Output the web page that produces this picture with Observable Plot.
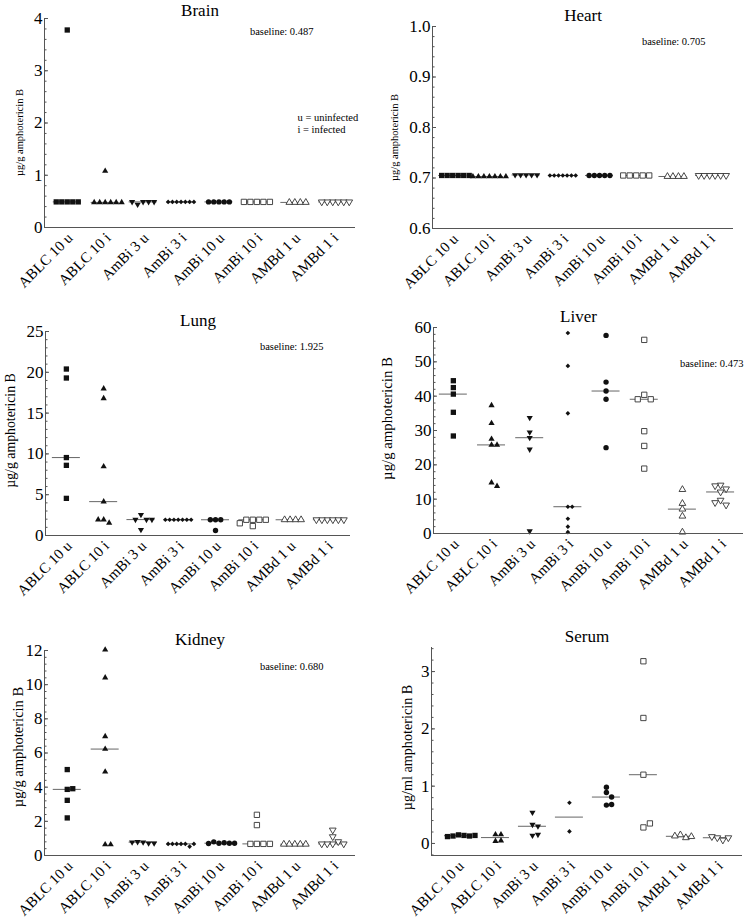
<!DOCTYPE html>
<html><head><meta charset="utf-8">
<script src="https://cdn.jsdelivr.net/npm/d3@7"></script>
<script src="https://cdn.jsdelivr.net/npm/@observablehq/plot@0.6"></script>
<style>
body{margin:0;background:#fff;}
#fig{position:relative;width:750px;height:918px;overflow:hidden;background:#fff;}
#fig svg{position:absolute;}
</style></head><body><div id="fig"></div>
<script>
// ---------- data ----------
const groups = ["ABLC 10 u","ABLC 10 i","AmBi 3 u","AmBi 3 i","AmBi 10 u","AmBi 10 i","AMBd 1 u","AMBd 1 i"];

const brain = [
  [3.78,0.49,0.49,0.49,0.49,0.49],
  [1.08,0.48,0.48,0.48,0.48,0.48,0.48],
  [0.49,0.49,0.44,0.49,0.49],
  [0.49,0.49,0.49,0.49,0.49,0.49,0.49],
  [0.49,0.49,0.49,0.49,0.49],
  [0.49,0.49,0.49,0.49,0.49],
  [0.48,0.48,0.48,0.48],
  [0.49,0.49,0.49,0.49,0.49,0.49]
];
const heart = [
  [0.705,0.705,0.705,0.705,0.705,0.705],
  [0.703,0.703,0.703,0.703,0.703,0.703,0.703],
  [0.706,0.706,0.706,0.706,0.706],
  [0.705,0.705,0.705,0.705,0.705,0.705,0.705],
  [0.705,0.705,0.705,0.705,0.705],
  [0.705,0.705,0.705,0.705,0.705],
  [0.703,0.703,0.703,0.703],
  [0.705,0.705,0.705,0.705,0.705,0.705]
];
const lung = [
  [20.4,19.3,9.55,8.6,4.55],
  [18.0,16.8,8.45,4.15,1.95,1.55,1.95],
  [2.55,1.95,1.95,1.95,0.7],
  [1.93,1.93,1.93,1.93,1.93,1.93,1.93],
  [1.93,1.93,1.93,0.62],
  [1.93,1.93,1.93,1.93,1.15,1.5],
  [1.93,1.93,1.93,1.93],
  [1.93,1.93,1.93,1.93,1.93,1.93]
];
const liver = [
  [44.5,42.5,40.6,35.3,28.4],
  [37.3,32.1,27.5,25.8,25.8,14.8,13.8],
  [33.7,29.5,27.9,24.5,0.7],
  [58.4,48.8,35.0,7.8,7.8,4.3,2.0,0.4],
  [57.7,44.1,41.5,39.1,25.0],
  [56.4,40.4,39.1,39.1,29.8,25.5,18.9],
  [12.8,8.75,7.1,5.05,0.4],
  [14.1,13.0,13.9,12.1,9.7,8.3,9.0]
];
const kidney = [
  [5.03,3.87,3.91,3.23,2.2],
  [12.04,10.41,6.97,6.23,4.9,0.64,0.64],
  [0.78,0.72,0.80,0.72,0.78],
  [0.68,0.68,0.68,0.52,0.68,0.68,0.68],
  [0.72,0.75,0.80,0.72,0.70,0.72],
  [2.38,1.78,0.68,0.68,0.68,0.68],
  [0.66,0.66,0.66,0.66,0.66],
  [1.49,1.1,0.81,0.68,0.68,0.68,0.68]
];
const serum = [
  [0.15,0.14,0.13,0.13,0.12,0.14],
  [0.155,0.155,0.04,0.05],
  [0.54,0.33,0.30,0.14,0.155],
  [0.71,0.21],
  [0.98,0.89,0.81,0.67,0.68],
  [3.18,2.19,1.20,0.28,0.35],
  [0.15,0.10,0.13,0.12],
  [0.10,0.06,0.12,0.10]
];

const brainTicks = [0,1,2,3,4];
const heartTicks = [0.6,0.7,0.8,0.9,1.0];
const lungTicks = [0,5,10,15,20,25];
const liverTicks = [0,10,20,30,40,50,60];
const kidneyTicks = [0,2,4,6,8,10,12];
const serumTicks = [0,1,2,3];

// ---------- styles ----------
const triDown = {draw(ctx, size){
  const y = -Math.sqrt(size / (3 * Math.sqrt(3)));
  ctx.moveTo(0, -y * 2);
  ctx.lineTo(-Math.sqrt(3) * y, y);
  ctx.lineTo(Math.sqrt(3) * y, y);
  ctx.closePath();
}};
const markers = [
  {symbol:"square",   r:3.0, fill:"#111", stroke:"none", slot:5.5},
  {symbol:"triangle", r:2.3, fill:"#111", stroke:"none", slot:5.5},
  {symbol:triDown,    r:2.3, fill:"#111", stroke:"none", slot:5.5},
  {symbol:"diamond2", r:2.1, fill:"#111", stroke:"none", slot:4.3},
  {symbol:"circle",   r:2.7, fill:"#111", stroke:"none", slot:5.2},
  {symbol:"square",   r:3.0, fill:"white", stroke:"#333", slot:6.5},
  {symbol:"triangle", r:2.5, fill:"white", stroke:"#333", slot:5.5},
  {symbol:triDown,    r:2.5, fill:"white", stroke:"#333", slot:5.5}
];

const FONT = "'Liberation Serif', 'Times New Roman', serif";
const AX = "#555";

const panels = [
  {title:"Brain", data:brain, ticks:brainTicks, fmt:d3.format("d"), y:[0,4], x:[-0.6,7.6], tdy:-3,
   left:0, top:0, h:300, mt:18, mb:73, ml:44, mr:20,
   ylabel:"µg/g amphotericin B", ylabelSize:10.5, ylx:19, ydy:9.5, note:"baseline: 0.487", ndx:-42, ndy:16,
   legend:"u = uninfected\ni = infected", ldx:253, ldy:114},
  {title:"Heart", data:heart, ticks:heartTicks, fmt:d3.format(".1f"), y:[0.6,1.0], x:[-0.55,7.65],
   left:375, top:0, h:300, mt:26, mb:72, ml:57, mr:17,
   ylabel:"µg/g amphotericin B", ylabelSize:10.5, ylx:19, ydy:10, note:"baseline: 0.705", ndx:-28, ndy:18},
  {title:"Lung", data:lung, ticks:lungTicks, fmt:d3.format("d"), y:[0,25], x:[-0.56,7.62],
   left:0, top:300, h:310, mt:31, mb:75, ml:45, mr:25,
   ylabel:"µg/g amphotericin B", ylabelSize:13.8, ylx:10, ydy:-3, note:"baseline: 1.925", ndx:-27, ndy:18},
  {title:"Liver", data:liver, ticks:liverTicks, fmt:d3.format("d"), y:[0,60], x:[-0.52,7.6], tdx:-10,
   left:375, top:300, h:310, mt:27, mb:77, ml:58, mr:7,
   ylabel:"µg/g amphotericin B", ylabelSize:14.8, ylx:12, ydy:-12, note:"baseline: 0.473", ndx:0, ndy:39},
  {title:"Kidney", data:kidney, ticks:kidneyTicks, fmt:d3.format("d"), y:[0,12], x:[-0.6,7.6],
   left:0, top:610, h:308, mt:40, mb:63, ml:44, mr:20,
   ylabel:"µg/g amphotericin B", ylabelSize:14.5, ylx:18, ydy:-6, note:"baseline: 0.680", ndx:-32, ndy:19},
  {title:"Serum", data:serum, ticks:serumTicks, fmt:d3.format("d"), y:[-0.21,3.42], x:[-0.73,7.68],
   left:375, top:610, h:308, mt:37, mb:63, ml:56, mr:8,
   ylabel:"µg/ml amphotericin B", ylabelSize:14.2, ylx:32, ydy:-4}
];

// horizontal spreading of coincident points (column scatter)
function spread(values, gi, pyPerUnit, pxPerX, slotPx, gapPx) {
  const placed = [], out = [];
  for (const v of values) {
    const p = v * pyPerUnit;
    let s = 0;
    for (let t = 0; ; t++) {
      s = t === 0 ? 0 : (t % 2 ? (t + 1) / 2 : -t / 2);
      if (!placed.some(q => q.s === s && Math.abs(q.p - p) < gapPx)) break;
    }
    placed.push({s, p});
    out.push({g: gi, v, x: gi + s * slotPx / pxPerX});
  }
  return out;
}

const fig = document.getElementById("fig");
for (const p of panels) {
  const W = 375;
  const pw = W - p.ml - p.mr, ph = p.h - p.mt - p.mb;
  const pxPerX = pw / (p.x[1] - p.x[0]);
  const pyPerUnit = ph / (p.y[1] - p.y[0]);
  const step = p.ticks[1] - p.ticks[0];
  const minor = d3.range(Math.ceil(p.y[0] / (step / 5) - 1e-9), Math.floor(p.y[1] / (step / 5) + 1e-9) + 1).map(k => +(k * step / 5).toFixed(6));
  const dotMarks = p.data.map((vals, gi) => {
    const m = markers[gi];
    return Plot.dot(spread(vals, gi, pyPerUnit, pxPerX, m.slot, 5), {
      x: "x", y: "v", symbol: m.symbol, r: m.r, fill: m.fill, stroke: m.stroke, strokeWidth: 0.9
    });
  });
  const medians = p.data.map((vals, gi) => ({g: gi, m: d3.median(vals)}));
  const half = 14 / pxPerX;
  const chart = Plot.plot({
    width: W, height: p.h,
    marginLeft: p.ml, marginRight: p.mr, marginTop: p.mt, marginBottom: p.mb,
    x: {domain: p.x, axis: null},
    y: {domain: p.y, axis: null},
    style: {fontFamily: FONT, background: "white", overflow: "visible", color: "black"},
    marks: [
      Plot.ruleY(medians, {y: "m", x1: d => d.g - half, x2: d => d.g + half, stroke: "#666", strokeWidth: 1}),
      ...dotMarks,
      Plot.ruleY(minor, {y: d => d, insetRight: pw - 2.5, stroke: AX}),
      Plot.ruleY(p.ticks, {y: d => d, insetRight: pw - 4, stroke: AX}),
      Plot.ruleX([p.x[0]], {stroke: AX}),
      Plot.ruleY([p.y[0]], {stroke: AX}),
      Plot.text(p.ticks, {y: d => d, text: d => p.fmt(d), frameAnchor: "left", textAnchor: "end", dx: -2, fontSize: 17}),
      Plot.text(groups.map((g, i) => ({g, i})), {x: "i", text: "g", frameAnchor: "bottom", rotate: -45, textAnchor: "end", lineAnchor: "middle", dx: 3, dy: 8, fontSize: 15}),
      Plot.text([p.title], {frameAnchor: "top", lineAnchor: "bottom", dy: p.tdy || -6, dx: p.tdx || 0, fontSize: 17}),
      Plot.text([p.ylabel], {frameAnchor: "left", rotate: -90, textAnchor: "middle", lineAnchor: "middle", dx: -(p.ml - p.ylx), dy: p.ydy, fontSize: p.ylabelSize}),
      p.note ? Plot.text([p.note], {frameAnchor: "top-right", textAnchor: "end", lineAnchor: "bottom", dx: p.ndx, dy: p.ndy, fontSize: 10.5}) : null,
      p.legend ? Plot.text([p.legend], {frameAnchor: "top-left", textAnchor: "start", lineAnchor: "bottom", lineHeight: 1.05, dx: p.ldx, dy: p.ldy, fontSize: 10.5}) : null
    ]
  });
  chart.style.left = p.left + "px";
  chart.style.top = p.top + "px";
  fig.appendChild(chart);
}
</script>
</body></html>
